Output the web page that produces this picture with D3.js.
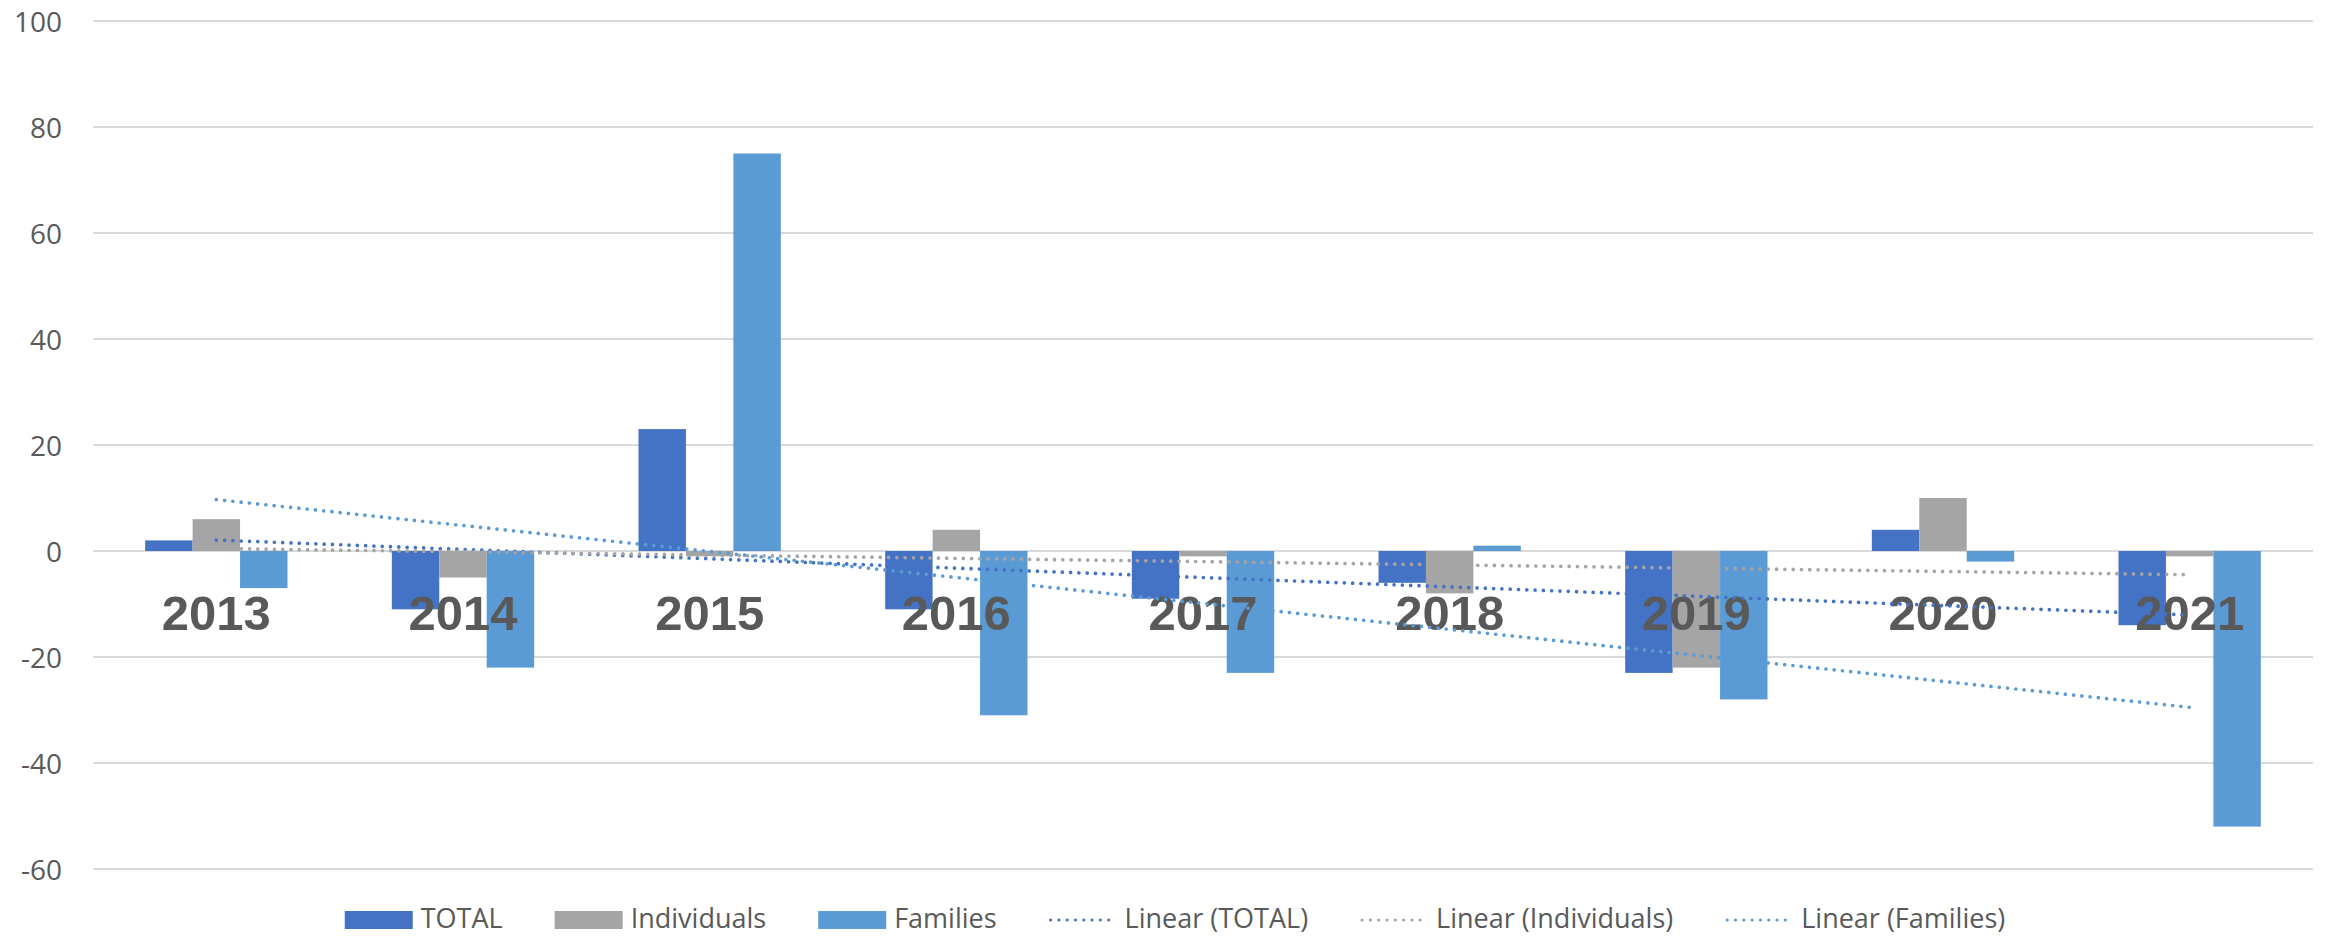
<!DOCTYPE html>
<html>
<head>
<meta charset="utf-8">
<script src="https://cdn.jsdelivr.net/npm/d3@7"></script>
<style>
  body { margin: 0; background: #fff; }
  svg { display: block; }
</style>
</head>
<body>
<svg id="chart" width="2330" height="937"></svg>
<script>
// data
const years = ['2013', '2014', '2015', '2016', '2017', '2018', '2019', '2020', '2021'];
const seriesNames = ['TOTAL', 'Individuals', 'Families'];
const totalValues = [2, -11, 23, -11, -9, -6, -23, 4, -14];
const individualsValues = [6, -5, -1, 4, -1, -8, -22, 10, -1];
const familiesValues = [-7, -22, 75, -31, -23, 1, -28, -2, -52];
const yTicks = [-60, -40, -20, 0, 20, 40, 60, 80, 100];

const colors = { TOTAL: '#4472C4', Individuals: '#A5A5A5', Families: '#5B9BD5' };

const size = { w: 2330, h: 937 };
const plot = { left: 93, right: 2313, top: 21, bottom: 869 };

const svg = d3.select('#chart');

let seriesValues = {
    TOTAL: totalValues,
    Individuals: individualsValues,
    Families: familiesValues
};

// one row per year, like the sheet behind the chart
let rows = years.map((y, i) => ({
    year: y,
    values: seriesNames.map(s => ({ key: s, value: seriesValues[s][i] }))
}));

let x0 = d3.scaleBand()
    .domain(years)
    .range([plot.left, plot.right])
    .paddingInner(0.423)
    .paddingOuter(0.2115);

let x1 = d3.scaleBand()
    .domain(seriesNames)
    .range([0, x0.bandwidth()]);

let y = d3.scaleLinear()
    .domain([-60, 100])
    .range([plot.bottom, plot.top]);

// gridlines
svg.append('g')
    .selectAll('line')
    .data(yTicks)
    .join('line')
    .attr('x1', plot.left)
    .attr('x2', plot.right)
    .attr('y1', d => y(d))
    .attr('y2', d => y(d))
    .attr('stroke', '#D9D9D9')
    .attr('stroke-width', 2);

// y axis labels (plain hyphen for negatives, as in the original)
let yAxis = d3.axisLeft(y)
    .tickValues(yTicks)
    .tickFormat(d => String(d))
    .tickSize(0)
    .tickPadding(0);

let yAxisG = svg.append('g')
    .attr('transform', 'translate(62,0)')
    .call(yAxis);
yAxisG.select('.domain').remove();
yAxisG.selectAll('text')
    .attr('fill', '#595959')
    .attr('font-family', '"Open Sans", sans-serif')
    .attr('font-size', 28)
    .attr('dy', '0.36em');

// bars
let groups = svg.append('g')
    .selectAll('g.year')
    .data(rows)
    .join('g')
    .classed('year', true)
    .attr('transform', d => `translate(${x0(d.year)},0)`);

groups.selectAll('rect')
    .data(d => d.values)
    .join('rect')
    .attr('x', d => x1(d.key))
    .attr('width', x1.bandwidth())
    .attr('y', d => y(Math.max(0, d.value)))
    .attr('height', d => Math.abs(y(d.value) - y(0)))
    .attr('fill', d => colors[d.key]);

// category labels sit inside the plot, just below zero
svg.append('g')
    .selectAll('text')
    .data(years)
    .join('text')
    .attr('x', d => x0(d) + x0.bandwidth() / 2)
    .attr('y', 630)
    .attr('text-anchor', 'middle')
    .attr('fill', '#595959')
    .attr('font-family', '"Liberation Sans", Arial, sans-serif')
    .attr('font-weight', 'bold')
    .attr('font-size', 49)
    .text(d => d);

// linear trendlines (least squares over category index)
function linearFit(vals) {
    let n = vals.length;
    let mx = d3.mean(vals, (v, i) => i);
    let my = d3.mean(vals);
    let sxy = d3.sum(vals, (v, i) => (i - mx) * (v - my));
    let sxx = d3.sum(vals, (v, i) => (i - mx) * (i - mx));
    let slope = sxy / sxx;
    let icpt = my - slope * mx;
    return [0, n - 1].map(i => ({ i: i, v: icpt + slope * i }));
}

let center = i => x0(years[i]) + x0.bandwidth() / 2;

let line = d3.line()
    .x(d => center(d.i))
    .y(d => y(d.v));

svg.append('g')
    .selectAll('path')
    .data(seriesNames)
    .join('path')
    .attr('d', s => line(linearFit(seriesValues[s])))
    .attr('fill', 'none')
    .attr('stroke', s => colors[s])
    .attr('stroke-width', 3.7)
    .attr('stroke-linecap', 'round')
    .attr('stroke-dasharray', '0 8.3');

// legend
let legendItems = seriesNames.map(s => ({ label: s, color: colors[s], kind: 'bar' }))
    .concat(seriesNames.map(s => ({ label: `Linear (${s})`, color: colors[s], kind: 'line' })));

let legendG = svg.append('g');
let legendY = 919;
let swatchW = 68;
let gap = 52;
let cursor = 0;

legendItems.forEach(item => {
    let g = legendG.append('g').attr('transform', `translate(${cursor},0)`);
    if (item.kind === 'bar') {
        g.append('rect')
            .attr('x', 0)
            .attr('y', legendY - 8)
            .attr('width', swatchW)
            .attr('height', 18)
            .attr('fill', item.color);
    } else {
        g.append('line')
            .attr('x1', 2)
            .attr('x2', swatchW - 2)
            .attr('y1', legendY + 1)
            .attr('y2', legendY + 1)
            .attr('stroke', item.color)
            .attr('stroke-width', 3.2)
            .attr('stroke-linecap', 'round')
            .attr('stroke-dasharray', '0 8.3');
    }
    let t = g.append('text')
        .attr('x', swatchW + 8)
        .attr('y', legendY)
        .attr('dy', '0.33em')
        .attr('fill', '#595959')
        .attr('font-family', '"Open Sans", sans-serif')
        .attr('font-size', 27)
        .text(item.label);
    cursor += swatchW + 8 + t.node().getComputedTextLength() + gap;
});

let legendW = cursor - gap;
legendG.attr('transform', `translate(${1175 - legendW / 2},0)`);
</script>
</body>
</html>
